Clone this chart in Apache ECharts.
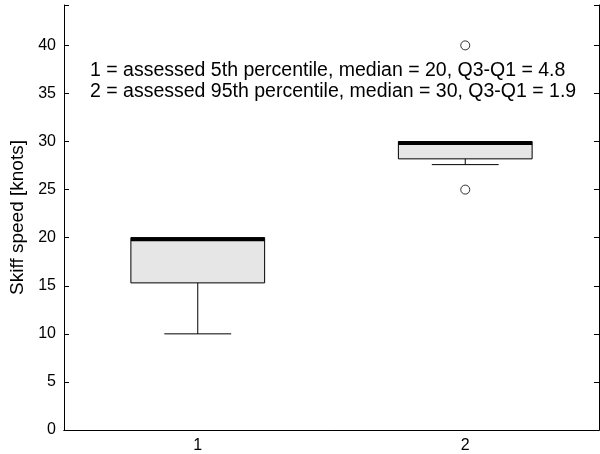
<!DOCTYPE html>
<html>
<head>
<meta charset="utf-8">
<script src="https://cdn.jsdelivr.net/npm/echarts@6/dist/echarts.min.js"></script>
<style>
html,body{margin:0;padding:0;background:#fff;}
#chart{width:600px;height:454px;}
</style>
</head>
<body>
<div id="chart"></div>
<script>
// Data
var categories = ['1', '2'];
var whiskerLow = [10, 27.6];
var q1 = [15.3, 28.2];
var median = [20, 30];
var q3 = [20, 30];
var whiskerHigh = [20, 30];
var outliers = [['2', 40], ['2', 25]];
var yTicks = [0, 5, 10, 15, 20, 25, 30, 35, 40];
var yLabel = 'Skiff speed [knots]';
var notes = [
  '1 = assessed 5th percentile, median = 20, Q3-Q1 = 4.8',
  '2 = assessed 95th percentile, median = 30, Q3-Q1 = 1.9'
];

var boxData = categories.map(function (c, i) {
  return [i, whiskerLow[i], q1[i], median[i], q3[i], whiskerHigh[i]];
});

var FONT = '"Liberation Sans", Arial, sans-serif';

function renderBox(params, api) {
  var x = api.value(0);
  var lo = api.coord([x, api.value(1)]);
  var b1 = api.coord([x, api.value(2)]);
  var md = api.coord([x, api.value(3)]);
  var b3 = api.coord([x, api.value(4)]);
  var hi = api.coord([x, api.value(5)]);
  var band = api.size([1, 0])[0];
  var half = band * 0.25;
  var cap = band * 0.125;
  var cx = lo[0];
  var children = [];
  children.push({
    type: 'rect',
    shape: { x: cx - half, y: b3[1], width: half * 2, height: b1[1] - b3[1] },
    style: { fill: '#e6e6e6', stroke: '#000', lineWidth: 1 }
  });
  if (Math.abs(lo[1] - b1[1]) > 0.5) {
    children.push({ type: 'line', shape: { x1: cx, y1: b1[1], x2: cx, y2: lo[1] }, style: { stroke: '#000', lineWidth: 1 } });
    children.push({ type: 'line', shape: { x1: cx - cap, y1: lo[1], x2: cx + cap, y2: lo[1] }, style: { stroke: '#000', lineWidth: 1 } });
  }
  if (Math.abs(hi[1] - b3[1]) > 0.5) {
    children.push({ type: 'line', shape: { x1: cx, y1: b3[1], x2: cx, y2: hi[1] }, style: { stroke: '#000', lineWidth: 1 } });
    children.push({ type: 'line', shape: { x1: cx - cap, y1: hi[1], x2: cx + cap, y2: hi[1] }, style: { stroke: '#000', lineWidth: 1 } });
  }
  children.push({
    type: 'line',
    shape: { x1: cx - half, y1: md[1] + 1.5, x2: cx + half, y2: md[1] + 1.5 },
    style: { stroke: '#000', lineWidth: 4 }
  });
  return { type: 'group', children: children };
}

var chart = echarts.init(document.getElementById('chart'), null, { renderer: 'canvas' });

var axisLineStyle = { lineStyle: { color: '#000', width: 1 } };

chart.setOption({
  animation: false,
  backgroundColor: '#fff',
  grid: { left: 64, right: 1, top: 5, bottom: 24, containLabel: false },
  xAxis: [
    {
      type: 'category', data: categories, boundaryGap: true,
      axisLine: axisLineStyle,
      axisTick: { inside: true, alignWithLabel: true, length: 5, lineStyle: { color: '#000' } },
      axisLabel: { color: '#000', fontSize: 16, fontFamily: FONT, margin: 8 },
      splitLine: { show: false }
    },
    {
      type: 'category', data: categories, boundaryGap: true, position: 'top',
      axisLine: axisLineStyle,
      axisTick: { inside: true, alignWithLabel: true, length: 5, lineStyle: { color: '#000' } },
      axisLabel: { show: false },
      splitLine: { show: false }
    }
  ],
  yAxis: [
    {
      type: 'value', min: 0, max: 44.2, interval: 5,
      axisLine: { show: true, lineStyle: { color: '#000', width: 1 } },
      axisTick: { show: true, inside: true, length: 5, lineStyle: { color: '#000' } },
      axisLabel: {
        color: '#000', fontSize: 16, fontFamily: FONT, margin: 8,
        formatter: function (v) { return yTicks.indexOf(v) >= 0 ? String(v) : ''; }
      },
      splitLine: { show: false },
      name: yLabel, nameLocation: 'middle', nameRotate: 90, nameGap: 37,
      nameTextStyle: { color: '#000', fontSize: 19, fontFamily: FONT }
    },
    {
      type: 'value', min: 0, max: 44.2, interval: 5, position: 'right',
      axisLine: { show: true, lineStyle: { color: '#000', width: 1 } },
      axisTick: { show: true, inside: true, length: 5, lineStyle: { color: '#000' } },
      axisLabel: { show: false },
      splitLine: { show: false }
    }
  ],
  series: [
    {
      type: 'custom', xAxisIndex: 0, yAxisIndex: 0,
      renderItem: renderBox,
      data: boxData,
      encode: { x: 0, y: [1, 2, 3, 4, 5] },
      z: 2
    },
    {
      type: 'scatter', xAxisIndex: 0, yAxisIndex: 0,
      data: outliers,
      symbol: 'circle', symbolSize: 9,
      itemStyle: { color: '#fff', borderColor: '#000', borderWidth: 1 },
      z: 3
    }
  ],
  graphic: [
    { type: 'text', left: 90, top: 61, style: { text: notes[0], fill: '#000', font: '19.5px ' + FONT } },
    { type: 'text', left: 90, top: 82, style: { text: notes[1], fill: '#000', font: '19.5px ' + FONT } }
  ]
});
</script>
</body>
</html>
